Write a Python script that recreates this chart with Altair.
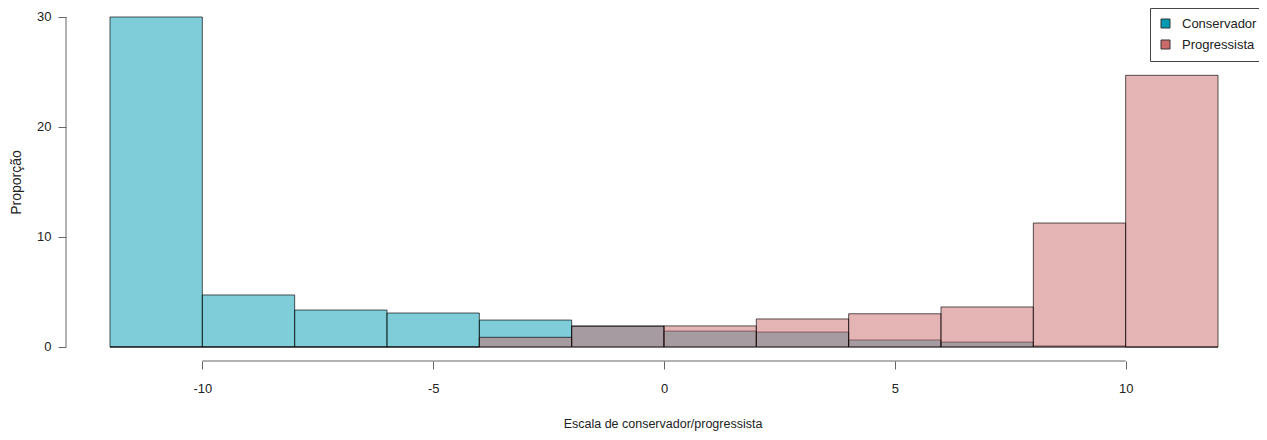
import altair as alt
import pandas as pd

# ---- data ----
bin_starts = [-12, -10, -8, -6, -4, -2, 0, 2, 4, 6, 8, 10]
bin_width = 2
conservador = [30.0, 4.73, 3.36, 3.09, 2.45, 1.92, 1.45, 1.36, 0.64, 0.45, 0.10, 0.0]
progressista = [0.0, 0.0, 0.0, 0.0, 0.88, 1.88, 1.92, 2.55, 3.02, 3.64, 11.27, 24.70]
groups = ["Conservador", "Progressista"]
colors = ["#009BB1", "#CC6A6A"]
x_ticks = [-10, -5, 0, 5, 10]
y_ticks = [0, 10, 20, 30]
x_title = "Escala de conservador/progressista"
y_title = "Proporção"

x_domain = [-12.953, 12.888]
y_domain = [-1.273, 30.818]

rows = []
for g, vals in zip(groups, [conservador, progressista]):
    for s, v in zip(bin_starts, vals):
        rows.append({"grupo": g, "x0": s, "x1": s + bin_width, "value": v, "base": 0})
df = pd.DataFrame(rows)

FONT = "Liberation Sans, Arial, Helvetica, sans-serif"

xscale = alt.Scale(domain=x_domain, nice=False, zero=False)
yscale = alt.Scale(domain=y_domain, nice=False, zero=False)

xaxis = alt.Axis(values=x_ticks, domain=False, grid=False, tickSize=8, tickColor="#666",
                 labelFont=FONT, labelFontSize=13, labelColor="#222", labelPadding=13,
                 labelExpr="'' + datum.value",
                 title=x_title, titleFont=FONT, titleFontSize=12.5, titleFontWeight="normal",
                 titleColor="#222", titlePadding=22)
yaxis = alt.Axis(values=y_ticks, domain=False, grid=False, tickSize=8, tickColor="#666",
                 labelFont=FONT, labelFontSize=13, labelColor="#222", labelPadding=7,
                 labelExpr="'' + datum.value",
                 title=y_title, titleFont=FONT, titleFontSize=14, titleFontWeight="normal",
                 titleColor="#222", titleX=-50, titleY=174, titleAlign="center",
                 titleBaseline="middle", titleAngle=270)

color = alt.Color("grupo:N", scale=alt.Scale(domain=groups, range=colors),
                  legend=alt.Legend(title=None, orient="none", legendX=1084, legendY=0,
                                    strokeColor="#444", fillColor="white", padding=9,
                                    symbolType="square", symbolSize=81, symbolOpacity=1,
                                    symbolStrokeColor="#333", symbolStrokeWidth=1,
                                    labelFont=FONT, labelFontSize=13, labelColor="#222",
                                    labelOffset=10, rowPadding=7))

base = alt.Chart(df).mark_rect(fillOpacity=0.5, stroke="black", strokeOpacity=0.65,
                               strokeWidth=1).encode(
    x=alt.X("x0:Q", scale=xscale, axis=xaxis),
    x2="x1:Q",
    y=alt.Y("value:Q", scale=yscale, axis=yaxis),
    y2="base:Q",
    color=color,
)

cons_layer = base.transform_filter(alt.datum.grupo == groups[0])
prog_layer = base.transform_filter(alt.datum.grupo == groups[1])

xline_df = pd.DataFrame({"a": [min(x_ticks)], "b": [max(x_ticks)], "y": [y_domain[0]]})
xline = alt.Chart(xline_df).mark_rule(color="#666", strokeWidth=1).encode(
    x=alt.X("a:Q", scale=xscale), x2="b:Q", y=alt.Y("y:Q", scale=yscale))

yline_df = pd.DataFrame({"x": [x_domain[0]], "a": [min(y_ticks)], "b": [max(y_ticks)]})
yline = alt.Chart(yline_df).mark_rule(color="#666", strokeWidth=1).encode(
    x=alt.X("x:Q", scale=xscale), y=alt.Y("a:Q", scale=yscale), y2="b:Q")

chart = alt.layer(cons_layer, prog_layer, xline, yline).properties(
    width=1193, height=353,
    autosize=alt.AutoSizeParams(type="none"),
    padding={"left": 58, "top": 0, "right": 0, "bottom": 70},
).configure(background="white").configure_view(stroke=None)

chart.save("out.html", embed_options={"renderer": "svg", "actions": False})
